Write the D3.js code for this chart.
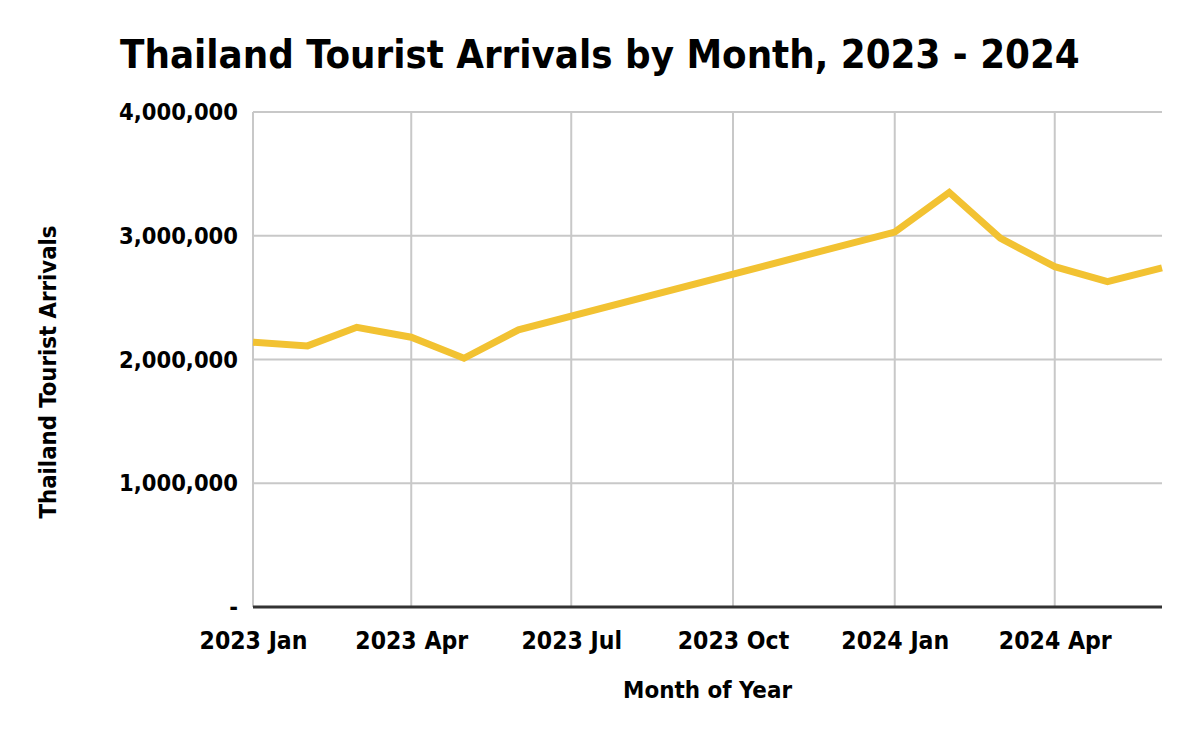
<!DOCTYPE html>
<html>
<head>
<meta charset="utf-8">
<script src="https://cdn.jsdelivr.net/npm/d3@7"></script>
<style>
  body { margin: 0; background: #fff; }
  text { font-family: "DejaVu Sans Condensed", "DejaVu Sans", Verdana, sans-serif; font-weight: bold; fill: #000; }
</style>
</head>
<body>
<script>
// Monthly arrivals (months with a straight run between them are left out)
var months = ["2023-01", "2023-02", "2023-03", "2023-04", "2023-05", "2023-06",
              "2024-01", "2024-02", "2024-03", "2024-04", "2024-05", "2024-06"];
var arrivals = [2140000, 2110000, 2260000, 2180000, 2010000, 2240000,
                3030000, 3350000, 2980000, 2750000, 2630000, 2740000];

var xTicks = ["2023-01", "2023-04", "2023-07", "2023-10", "2024-01", "2024-04"];
var xTickLabels = ["2023 Jan", "2023 Apr", "2023 Jul", "2023 Oct", "2024 Jan", "2024 Apr"];
var yTicks = [0, 1000000, 2000000, 3000000, 4000000];
var yTickLabels = ["-", "1,000,000", "2,000,000", "3,000,000", "4,000,000"];

var parseMonth = d3.timeParse("%Y-%m");

var data = months.map(function(m, i) {
  return { date: parseMonth(m), value: arrivals[i] };
});

var width = 1200, height = 742;
var plot = { left: 253, right: 1162, top: 112, bottom: 607 };

var svg = d3.select("body").append("svg")
  .attr("width", width)
  .attr("height", height);

var x = d3.scaleTime()
  .domain([parseMonth("2023-01"), parseMonth("2024-06")])
  .range([plot.left, plot.right]);

var y = d3.scaleLinear()
  .domain([0, 4000000])
  .range([plot.bottom, plot.top]);

// font size that gives a text the width it has in the picture
function fitSize(sel, target) {
  var size = parseFloat(sel.style("font-size"));
  var w = sel.node().getComputedTextLength();
  return size * target / w;
}
function fit(sel, target) {
  sel.style("font-size", fitSize(sel, target) + "px");
}

// horizontal grid
svg.append("g")
  .selectAll("line")
  .data(yTicks.slice(1))
  .enter().append("line")
  .attr("x1", plot.left)
  .attr("x2", plot.right)
  .attr("y1", function(d) { return y(d); })
  .attr("y2", function(d) { return y(d); })
  .attr("stroke", "#c8c8c8")
  .attr("stroke-width", 2);

// vertical grid
svg.append("g")
  .selectAll("line")
  .data(xTicks)
  .enter().append("line")
  .attr("x1", function(d) { return x(parseMonth(d)); })
  .attr("x2", function(d) { return x(parseMonth(d)); })
  .attr("y1", plot.top)
  .attr("y2", plot.bottom)
  .attr("stroke", "#c8c8c8")
  .attr("stroke-width", 2);

// x axis
var xAxis = svg.append("g")
  .attr("transform", "translate(0," + plot.bottom + ")")
  .call(d3.axisBottom(x)
    .tickValues(xTicks.map(parseMonth))
    .tickFormat(function(d, i) { return xTickLabels[i]; })
    .tickSize(0)
    .tickPadding(25));
xAxis.select(".domain").attr("stroke", "#333").attr("stroke-width", 3)
  .attr("d", "M" + plot.left + ",0H" + plot.right);
var xTickText = xAxis.selectAll(".tick text")
  .attr("fill", "#000")
  .style("font-family", null)
  .style("font-size", "20px");
var xSize = fitSize(d3.select(xTickText.node()), 108);
xTickText.style("font-size", xSize + "px");

// y axis
var yAxis = svg.append("g")
  .attr("transform", "translate(" + plot.left + ",0)")
  .call(d3.axisLeft(y)
    .tickValues(yTicks)
    .tickFormat(function(d, i) { return yTickLabels[i]; })
    .tickSize(0)
    .tickPadding(15));
yAxis.select(".domain").remove();
var yTickText = yAxis.selectAll(".tick text")
  .attr("fill", "#000")
  .style("font-family", null)
  .style("font-size", "20px");
var ySize = fitSize(d3.select(yTickText.nodes()[4]), 119);
yTickText.style("font-size", ySize + "px");

// the line
var line = d3.line()
  .x(function(d) { return x(d.date); })
  .y(function(d) { return y(d.value); });

svg.append("path")
  .datum(data)
  .attr("d", line)
  .attr("fill", "none")
  .attr("stroke", "#f2c232")
  .attr("stroke-width", 7)
  .attr("stroke-linejoin", "miter");

// title
var title = svg.append("text")
  .attr("x", 120)
  .attr("y", 68)
  .style("font-size", "36px")
  .text("Thailand Tourist Arrivals by Month, 2023 - 2024");
fit(title, 960);

// axis titles
var xLabel = svg.append("text")
  .attr("x", (plot.left + plot.right) / 2)
  .attr("y", 698)
  .attr("text-anchor", "middle")
  .style("font-size", "20px")
  .text("Month of Year");
fit(xLabel, 169);

var yLabel = svg.append("text")
  .attr("transform", "translate(56," + 372 + ") rotate(-90)")
  .attr("text-anchor", "middle")
  .style("font-size", "20px")
  .text("Thailand Tourist Arrivals");
fit(yLabel, 293);
</script>
</body>
</html>
